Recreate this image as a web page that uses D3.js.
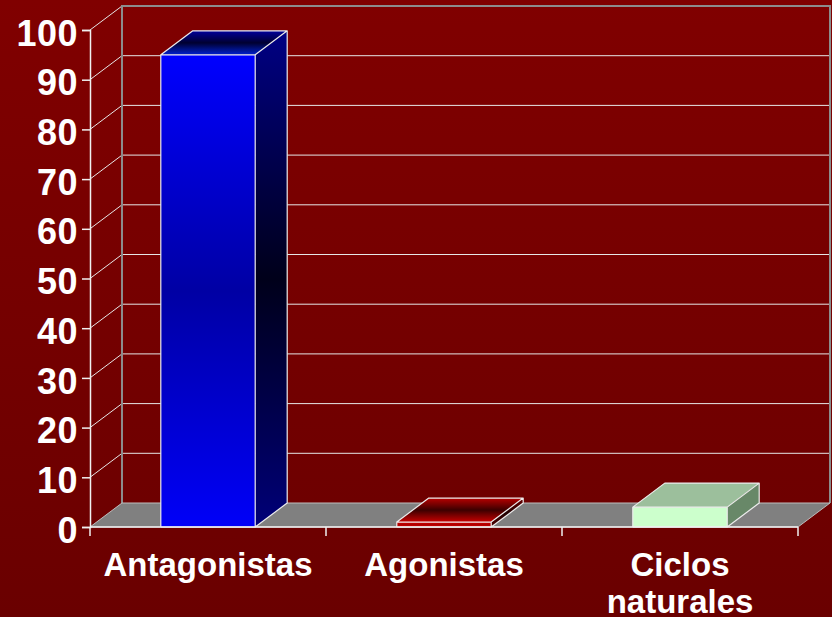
<!DOCTYPE html>
<html>
<head>
<meta charset="utf-8">
<script src="https://cdn.jsdelivr.net/npm/d3@7"></script>
<style>
  html, body { margin: 0; padding: 0; background: #7a0000; }
  svg { display: block; }
  text { font-family: "Liberation Sans", Arial, sans-serif; font-weight: bold; fill: #fff; }
</style>
</head>
<body>
<svg id="chart" width="832" height="617"></svg>
<script>
// data
const categories = ['Antagonistas', 'Agonistas', 'Ciclos naturales'];
const values = [95, 1, 4];
const yTicks = [0, 10, 20, 30, 40, 50, 60, 70, 80, 90, 100];

// bar palettes: gradient stops for front, side and top faces
const palettes = [
  {
    front: ['#0000ff', '#0000a4', '#0000f8'],
    side: ['#000084', '#00001a', '#000078'],
    top: ['#00009c', '#000030', '#0020d0']
  },
  {
    front: ['#d00000', '#b00000', '#d00000'],
    side: ['#700000', '#200000', '#500000'],
    top: ['#b80000', '#3c0000', '#c80000']
  },
  {
    front: ['#ccffcc', '#ccffcc', '#ccffcc'],
    side: ['#688868', '#688868', '#688868'],
    top: ['#9cbf9c', '#9cbf9c', '#9cbf9c']
  }
];

const width = 832;
const height = 617;
const m_left = 90, m_right = 798, m_top = 30, m_bottom = 527;
const dx = 32, dy = -24; // depth offset

const svg = d3.select('#chart');
const defs = svg.append('defs');

const bg = defs.append('linearGradient').attr('id', 'bg')
  .attr('x1', 0).attr('y1', 0).attr('x2', 0).attr('y2', 1);
bg.append('stop').attr('offset', 0).attr('stop-color', '#800000');
bg.append('stop').attr('offset', 1).attr('stop-color', '#6a0000');

svg.append('rect').attr('width', width).attr('height', height).attr('fill', 'url(#bg)');

const y = d3.scaleLinear().domain([0, 100]).range([m_bottom, m_top]);
const x = d3.scaleBand().domain(categories).range([m_left, m_right])
  .paddingInner(0.6).paddingOuter(0.3);

// back wall gridlines
svg.append('g')
  .selectAll('line')
  .data(yTicks.filter(d => d > 0))
  .join('line')
  .attr('x1', m_left + dx).attr('x2', m_right + dx)
  .attr('y1', d => y(d) + dy).attr('y2', d => y(d) + dy)
  .attr('stroke', '#e6e6e6').attr('stroke-width', 1);

// side wall diagonals
svg.append('g')
  .selectAll('line')
  .data(yTicks.filter(d => d > 0))
  .join('line')
  .attr('x1', m_left).attr('x2', m_left + dx)
  .attr('y1', d => y(d)).attr('y2', d => y(d) + dy)
  .attr('stroke', '#e6e6e6').attr('stroke-width', 1);

// wall frame
svg.append('path')
  .attr('d', `M${m_left + dx},${y(0) + dy}V${y(100) + dy}H${m_right + dx}V${y(0) + dy}`)
  .attr('fill', 'none').attr('stroke', '#8c8c8c').attr('stroke-width', 2);

// floor
svg.append('path')
  .attr('d', `M${m_left},${y(0)}L${m_left + dx},${y(0) + dy}H${m_right + dx}L${m_right},${y(0)}Z`)
  .attr('fill', '#808080').attr('stroke', '#bdbdbd').attr('stroke-width', 1);

// bars
const grad = (id, stops) => {
  const g = defs.append('linearGradient').attr('id', id)
    .attr('x1', 0).attr('y1', 0).attr('x2', 0).attr('y2', 1);
  g.selectAll('stop').data(stops).join('stop')
    .attr('offset', (d, i) => i / (stops.length - 1))
    .attr('stop-color', d => d);
};

const bars = svg.append('g')
  .selectAll('g')
  .data(categories.map((c, i) => ({ c, v: values[i], i })))
  .join('g');

bars.each(function (d) {
  const p = palettes[d.i];
  grad(`front-${d.i}`, p.front);
  grad(`side-${d.i}`, p.side);
  grad(`top-${d.i}`, p.top);
  const g = d3.select(this);
  const x0 = x(d.c), x1 = x(d.c) + x.bandwidth();
  const y0 = y(0), y1 = y(d.v);
  g.append('path')
    .attr('d', `M${x1},${y0}L${x1 + dx},${y0 + dy}V${y1 + dy}L${x1},${y1}Z`)
    .attr('fill', `url(#side-${d.i})`);
  g.append('path')
    .attr('d', `M${x0},${y1}L${x0 + dx},${y1 + dy}H${x1 + dx}L${x1},${y1}Z`)
    .attr('fill', `url(#top-${d.i})`);
  g.append('rect')
    .attr('x', x0).attr('y', y1)
    .attr('width', x1 - x0).attr('height', y0 - y1)
    .attr('fill', `url(#front-${d.i})`);
  g.append('path')
    .attr('d', `M${x0},${y0}V${y1}L${x0 + dx},${y1 + dy}H${x1 + dx}V${y0 + dy}L${x1},${y0}H${x0}M${x0},${y1}H${x1}V${y0}M${x1},${y1}L${x1 + dx},${y1 + dy}`)
    .attr('fill', 'none').attr('stroke', '#ececec').attr('stroke-width', 1.2)
    .attr('stroke-linejoin', 'round');
});

// y axis
const yAxis = svg.append('g').attr('transform', `translate(${m_left},0)`)
  .call(d3.axisLeft(y).tickValues(yTicks).tickSize(8).tickPadding(4));
yAxis.select('.domain').attr('stroke', '#f0f0f0').attr('stroke-width', 1.5);
yAxis.selectAll('.tick line').attr('stroke', '#f0f0f0').attr('stroke-width', 1.5);
yAxis.selectAll('.tick text')
  .attr('fill', '#fff').attr('font-size', 36).attr('dy', '0.42em')
  .attr('letter-spacing', 0.5)
  .style('font-family', '"Liberation Sans", Arial, sans-serif').style('font-weight', 'bold');

// x axis
const xAxis = svg.append('g').attr('transform', `translate(0,${m_bottom})`);
xAxis.append('line').attr('x1', m_left).attr('x2', m_right)
  .attr('stroke', '#f0f0f0').attr('stroke-width', 1.5);
xAxis.selectAll('.cat-tick')
  .data([m_left, ...categories.map(c => x(c) + x.step() * 0.7)])
  .join('line')
  .attr('x1', d => d).attr('x2', d => d)
  .attr('y1', 0).attr('y2', 9)
  .attr('stroke', '#f0f0f0').attr('stroke-width', 1.5);

const labels = xAxis.selectAll('.cat-label')
  .data(categories)
  .join('text')
  .attr('text-anchor', 'middle')
  .attr('font-size', 33)
  .attr('transform', d => `translate(${x(d) + x.bandwidth() / 2},49)`);
labels.each(function (d) {
  const lines = d.split(' ');
  d3.select(this).selectAll('tspan').data(lines).join('tspan')
    .attr('x', 0).attr('dy', (w, i) => i === 0 ? 0 : 37)
    .text(w => w);
});
</script>
</body>
</html>
